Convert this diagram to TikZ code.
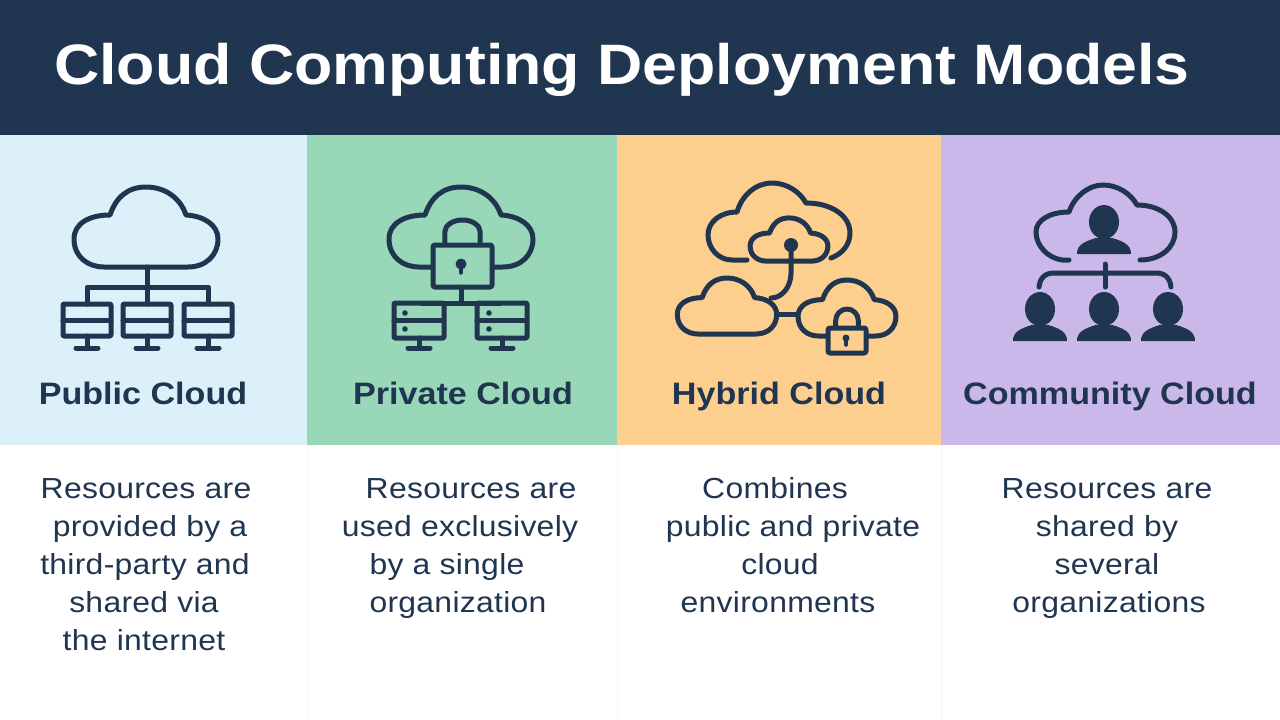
\documentclass[tikz,border=0pt]{standalone}
\usepackage{fontspec}
\setmainfont[FakeStretch=1.1]{Liberation Sans}

\definecolor{navy}{HTML}{1F3550}
\definecolor{pubblue}{HTML}{DCF0FA}
\definecolor{privgreen}{HTML}{98D8B8}
\definecolor{hyborange}{HTML}{FDCF8E}
\definecolor{commpurple}{HTML}{CBB8EA}

\tikzset{
  icon/.style={draw=navy, line width=5pt, line join=round, line cap=round},
  thinicon/.style={draw=navy, line width=3.5pt, line join=round, line cap=round},
  panellabel/.style={font=\fontsize{31}{32}\selectfont\bfseries, text=navy, anchor=base},
  desctext/.style={font=\fontsize{29}{30}\selectfont\addfontfeatures{LetterSpace=1}, text=navy, anchor=base},
  cloud/.pic={
    \draw[icon, pic actions] (-42,40) -- (42,40) .. controls (60,40) and (72,28) .. (72,12)
      .. controls (72,-2) and (58,-11) .. (40,-12) .. controls (34,-30) and (18,-40) .. (0,-40)
      .. controls (-18,-40) and (-30,-30) .. (-36,-12) .. controls (-56,-12) and (-72,-4) .. (-72,12)
      .. controls (-72,30) and (-58,40) .. (-42,40) -- cycle;
  },
  person/.pic={
    \fill[navy] (0,-32) ellipse (15 and 17);
    \fill[navy] (-27,0) .. controls (-27,-8) and (-22,-12) .. (-8,-16) -- (8,-16)
      .. controls (22,-12) and (27,-8) .. (27,0) -- cycle;
  },
}
% server rack with stand: centre x, top y, half width, height, foot half width
\newcommand{\serverbox}[5]{
  \draw[icon, rounded corners=1pt] (#1-#3,#2) rectangle (#1+#3,#2+#4);
  \draw[icon] (#1-#3,#2+#4/2) -- (#1+#3,#2+#4/2);
  \draw[icon] (#1,#2+#4) -- (#1,348);
  \draw[icon] (#1-#5,348) -- (#1+#5,348);
}
% padlock: left, right, top of body, bottom, top of shackle, fill
\newcommand{\padlock}[6]{
  \draw[icon] (#1+0.2*#2-0.2*#1,#3) -- (#1+0.2*#2-0.2*#1,#5+12)
    arc[start angle=180, end angle=360, x radius=0.3*#2-0.3*#1, y radius=12] -- (#2-0.2*#2+0.2*#1,#3);
  \draw[icon, fill=#6, rounded corners=2pt] (#1,#3) rectangle (#2,#4);
}

\begin{document}
\begin{tikzpicture}[x=1pt, y=-1pt]
\useasboundingbox (0,0) rectangle (1280,720);
\fill[white] (0,0) rectangle (1280,720); % page
\fill[navy] (0,0) rectangle (1280,135); % title bar
\fill[pubblue] (0,135) rectangle (307,445); % panels
\fill[privgreen] (307,135) rectangle (617,445);
\fill[hyborange] (617,135) rectangle (941,445);
\fill[commpurple] (941,135) rectangle (1280,445);
\foreach \x in {307,617,941} \draw[black!4, line width=0.7pt] (\x,445) -- (\x,720); % column rules

\node[font=\fontsize{57}{60}\selectfont\bfseries, text=white, anchor=base] (title) at (622,84) {Cloud Computing Deployment Models};

% public cloud icon
\pic at (146,227) {cloud};
\draw[icon] (147,267) -- (147,304);
\draw[icon] (87,304) -- (87,287) -- (208,287) -- (208,304);
\foreach \x in {87,147,208} \serverbox{\x}{304}{24}{32}{11};

% private cloud icon
\pic at (461,227) {cloud};
\padlock{433}{492}{245}{287}{220}{privgreen}
\fill[navy] (461,264) circle (5.5);
\draw[thinicon] (461,266) -- (461,273);
\draw[icon] (461,287) -- (461,303);
\draw[icon] (422,303) -- (500,303);
\serverbox{419}{303}{25}{35}{11}
\serverbox{502}{303}{25}{35}{11}
\foreach \x in {405,489} \foreach \y in {313,329} \fill[navy] (\x,\y) circle (2.8);

% hybrid cloud icon
\draw[icon] (747,260) -- (732,260) .. controls (718,260) and (708,248) .. (708,235)
  .. controls (708,222) and (720,212) .. (737,212) .. controls (742,195) and (756,183) .. (772,183)
  .. controls (787,183) and (800,192) .. (806,203) .. controls (832,203) and (850,216) .. (850,233)
  .. controls (850,245) and (842,254) .. (831,258);
\pic[xscale=0.54, yscale=0.54] at (789,239.5) {cloud};
\draw[icon] (791,245) -- (791,273) .. controls (791,287) and (782,298) .. (771,298);
\fill[navy] (791,245) circle (7);
\pic[xscale=0.69, yscale=0.7] at (727,306) {cloud};
\draw[icon] (777,314) -- (797,314);
\pic[xscale=0.68, yscale=0.7] at (847,308) {cloud};
\padlock{828}{866}{328}{353}{309}{hyborange}
\fill[navy] (846,338) circle (3.5);
\draw[thinicon] (846,339) -- (846,345);

% community cloud icon
\draw[icon] (1069,260) -- (1062,260) .. controls (1048,258) and (1036,246) .. (1036,232)
  .. controls (1036,220) and (1050,212) .. (1069,212) .. controls (1074,197) and (1088,185) .. (1103,185)
  .. controls (1118,185) and (1131,194) .. (1137,205) .. controls (1158,205) and (1175,216) .. (1175,232)
  .. controls (1175,248) and (1160,260) .. (1140,260);
\pic at (1104,254) {person};
\draw[icon] (1039,287) .. controls (1040,278) and (1045,273) .. (1054,273) -- (1156,273)
  .. controls (1165,273) and (1170,278) .. (1171,287);
\draw[icon] (1105,264) -- (1105,287);
\foreach \x in {1040,1104,1168} \pic at (\x,341) {person};

% panel names
\node[panellabel] (pubname) at (143,404) {Public Cloud};
\node[panellabel] (privname) at (463,404) {Private Cloud};
\node[panellabel] (hybname) at (779,404) {Hybrid Cloud};
\node[panellabel] (commname) at (1110,404) {Community Cloud};

% descriptions, one node per line
\foreach \n/\x/\y/\txt in {
  a1/146/498/Resources are, a2/150/536/provided by a, a3/145/574/third-party and, a4/144/612/shared via, a5/144/650/the internet,
  b1/471/498/Resources are, b2/460/536/used exclusively, b3/447/574/by a single, b4/458/612/organization,
  c1/775/498/Combines, c2/793/536/public and private, c3/780/574/cloud, c4/778/612/environments,
  d1/1107/498/Resources are, d2/1107/536/shared by, d3/1107/574/several, d4/1109/612/organizations}
  \node[desctext] (line\n) at (\x,\y) {\txt};
\end{tikzpicture}
\end{document}
